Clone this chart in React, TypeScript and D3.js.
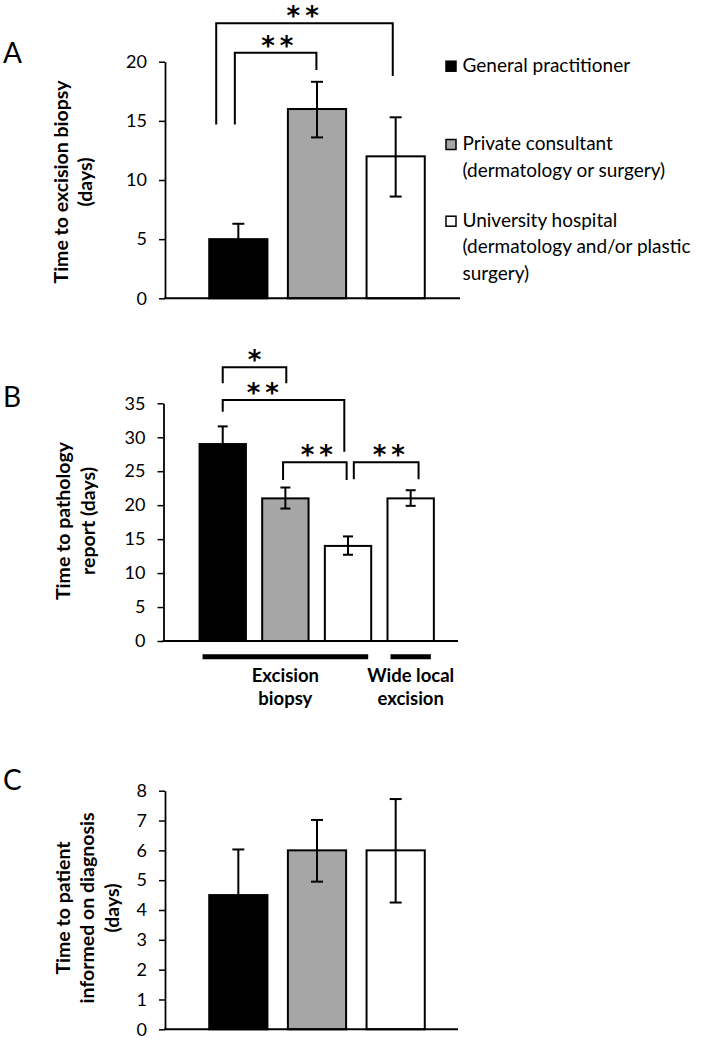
import React, { useEffect, useRef } from "react";
import * as d3 from "d3";

// providers / series
const providers = ["General practitioner", "Private consultant", "University hospital"];
const legendLines = [
  ["General practitioner"],
  ["Private consultant", "(dermatology or surgery)"],
  ["University hospital", "(dermatology and/or plastic", "surgery)"],
];
const fills = ["#000000", "#a6a6a6", "#ffffff"];

// A: time to excision biopsy (days)
const excisionMean = [5, 16, 12];
const excisionLow = [3.7, 13.6, 8.6];
const excisionHigh = [6.3, 18.3, 15.3];
const excisionTicks = [0, 5, 10, 15, 20];

// B: time to pathology report (days)
const pathologyCats = ["GP excision", "Private excision", "University excision", "University WLE"];
const pathologyFill = [0, 1, 2, 2];
const pathologyMean = [29, 21, 14, 21];
const pathologyLow = [26.4, 19.5, 12.7, 19.9];
const pathologyHigh = [31.6, 22.6, 15.4, 22.2];
const pathologyTicks = [0, 5, 10, 15, 20, 25, 30, 35];
const pathologyGroups = [
  { from: 0, to: 2, label: ["Excision", "biopsy"] },
  { from: 3, to: 3, label: ["Wide local", "excision"] },
];

// C: time to patient informed on diagnosis (days)
const informedMean = [4.5, 6, 6];
const informedLow = [2.95, 4.95, 4.25];
const informedHigh = [6.03, 7.02, 7.72];
const informedTicks = [0, 1, 2, 3, 4, 5, 6, 7, 8];

// significance brackets: category index + fraction across the bar, values in days
const excisionBrackets = [
  { from: 0, fromAt: 0.12, to: 2, toAt: 0.45, top: 23.25, fromEnd: 14.7, toEnd: 18.8, stars: "**", at: 0.49 },
  { from: 0, fromAt: 0.44, to: 1, toAt: 0.49, top: 20.76, fromEnd: 14.7, toEnd: 19.3, stars: "**", at: 0.52 },
];
const pathologyBrackets = [
  { from: 0, fromAt: 0.5, to: 1, toAt: 0.52, top: 40.3, fromEnd: 37.95, toEnd: 37.95, stars: "*", at: 0.5 },
  { from: 0, fromAt: 0.5, to: 2, toAt: 0.42, top: 35.5, fromEnd: 33.77, toEnd: 27.88, stars: "**", at: 0.33 },
  { from: 1, fromAt: 0.45, to: 2, toAt: 0.47, top: 26.32, fromEnd: 23.71, toEnd: 23.71, stars: "**", at: 0.53 },
  { from: 2, fromAt: 0.625, to: 3, toAt: 0.67, top: 26.32, fromEnd: 23.8, toEnd: 23.8, stars: "**", at: 0.54 },
];

const FONT = "Lato, 'Open Sans', sans-serif";
const STAR_FONT = "'DejaVu Sans', sans-serif";

function drawPanel(svg, p) {
  const g = svg.append("g");
  const x = d3.scaleBand().domain(p.cats).range(p.xRange).paddingInner(0.26).paddingOuter(0.13);
  const y = d3.scaleLinear().domain([0, d3.max(p.ticks)]).range(p.yRange);
  const bw = x.bandwidth();

  // panel letter
  g.append("text")
    .attr("x", 3)
    .attr("y", p.letterY)
    .style("font-family", FONT)
    .style("font-size", "28px")
    .text(p.letter);

  // y axis
  const ax = g.append("g")
    .attr("transform", `translate(${p.axisX},0)`)
    .call(d3.axisLeft(y).tickValues(p.ticks).tickSize(6).tickSizeOuter(0).tickPadding(12));
  ax.select(".domain").attr("stroke", "#000").attr("stroke-width", 1.8);
  ax.selectAll(".tick line").attr("stroke", "#000").attr("stroke-width", 1.5);
  ax.selectAll(".tick text")
    .style("font-family", FONT)
    .style("font-size", "18px")
    .attr("fill", "#000");

  // y label
  const yl = g.append("text")
    .attr("transform", `translate(0,${p.labelCY}) rotate(-90)`)
    .attr("text-anchor", "middle")
    .style("font-family", FONT)
    .style("font-weight", "bold")
    .style("font-size", "19.5px");
  p.yLabel.forEach((line, i) => {
    yl.append("tspan").attr("x", 0).attr("y", p.labelX[i]).text(line);
  });

  // bars
  g.selectAll("rect.bar")
    .data(p.means)
    .join("rect")
    .attr("x", (d, i) => x(p.cats[i]))
    .attr("y", (d) => y(d))
    .attr("width", bw)
    .attr("height", (d) => y(0) - y(d))
    .attr("fill", (d, i) => fills[p.fillIdx[i]])
    .attr("stroke", "#000")
    .attr("stroke-width", 2);

  // error bars
  const eb = g.selectAll("g.err").data(p.means).join("g");
  eb.append("line")
    .attr("x1", (d, i) => x(p.cats[i]) + bw / 2)
    .attr("x2", (d, i) => x(p.cats[i]) + bw / 2)
    .attr("y1", (d, i) => y(p.lows[i]))
    .attr("y2", (d, i) => y(p.highs[i]))
    .attr("stroke", "#000")
    .attr("stroke-width", 2);
  [p.lows, p.highs].forEach((arr) => {
    eb.append("line")
      .attr("x1", (d, i) => x(p.cats[i]) + bw / 2 - p.cap / 2)
      .attr("x2", (d, i) => x(p.cats[i]) + bw / 2 + p.cap / 2)
      .attr("y1", (d, i) => y(arr[i]))
      .attr("y2", (d, i) => y(arr[i]))
      .attr("stroke", "#000")
      .attr("stroke-width", 2);
  });

  // baseline
  g.append("line")
    .attr("x1", p.axisX - 1)
    .attr("x2", p.axisEnd)
    .attr("y1", y(0))
    .attr("y2", y(0))
    .attr("stroke", "#000")
    .attr("stroke-width", 2);

  // significance brackets
  (p.brackets || []).forEach((b) => {
    const x0 = x(p.cats[b.from]) + b.fromAt * bw;
    const x1 = x(p.cats[b.to]) + b.toAt * bw;
    const line = d3.line();
    g.append("path")
      .attr("d", line([[x0, y(b.fromEnd)], [x0, y(b.top)], [x1, y(b.top)], [x1, y(b.toEnd)]]))
      .attr("fill", "none")
      .attr("stroke", "#000")
      .attr("stroke-width", 2);
    g.append("text")
      .attr("x", x0 + (x1 - x0) * b.at + 2.5)
      .attr("y", y(b.top) + 2)
      .attr("text-anchor", "middle")
      .style("font-family", STAR_FONT)
      .style("font-weight", "bold")
      .style("font-size", "26px")
      .style("letter-spacing", "5px")
      .text(b.stars);
  });

  return { x, y, bw, g };
}

const App = () => {
  const svgRef = useRef(null);

  useEffect(() => {
    const svg = d3.select(svgRef.current);
    svg.selectAll("*").remove();

    drawPanel(svg, {
      letter: "A",
      letterY: 63,
      cats: providers,
      fillIdx: [0, 1, 2],
      means: excisionMean,
      lows: excisionLow,
      highs: excisionHigh,
      ticks: excisionTicks,
      xRange: [199, 435],
      yRange: [298.3, 61.7],
      axisX: 165,
      axisEnd: 460,
      cap: 12,
      yLabel: ["Time to excision biopsy", "(days)"],
      labelX: [68, 92],
      labelCY: 182,
      brackets: excisionBrackets,
    });

    const b = drawPanel(svg, {
      letter: "B",
      letterY: 406.7,
      cats: pathologyCats,
      fillIdx: pathologyFill,
      means: pathologyMean,
      lows: pathologyLow,
      highs: pathologyHigh,
      ticks: pathologyTicks,
      xRange: [191.4, 442],
      yRange: [641, 403.3],
      axisX: 163.5,
      axisEnd: 458,
      cap: 10,
      yLabel: ["Time to pathology", "report (days)"],
      labelX: [70, 94.5],
      labelCY: 521,
      brackets: pathologyBrackets,
    });

    // group bars under panel B
    pathologyGroups.forEach((grp) => {
      const x0 = b.x(pathologyCats[grp.from]) + 3;
      const x1 = b.x(pathologyCats[grp.to]) + b.bw - 3;
      b.g.append("line")
        .attr("x1", x0)
        .attr("x2", x1)
        .attr("y1", 656.7)
        .attr("y2", 656.7)
        .attr("stroke", "#000")
        .attr("stroke-width", 5);
      const t = b.g.append("text")
        .attr("text-anchor", "middle")
        .style("font-family", FONT)
        .style("font-weight", "bold")
        .style("font-size", "18.5px");
      grp.label.forEach((line, i) => {
        t.append("tspan").attr("x", (x0 + x1) / 2).attr("y", 681.7 + i * 23.5).text(line);
      });
    });

    drawPanel(svg, {
      letter: "C",
      letterY: 790,
      cats: providers,
      fillIdx: [0, 1, 2],
      means: informedMean,
      lows: informedLow,
      highs: informedHigh,
      ticks: informedTicks,
      xRange: [199, 435],
      yRange: [1029.3, 790.7],
      axisX: 165,
      axisEnd: 458,
      cap: 12,
      yLabel: ["Time to patient", "informed on diagnosis", "(days)"],
      labelX: [70, 94, 119],
      labelCY: 908,
    });

    // legend
    const lg = svg.append("g");
    const firstBaselines = [71.7, 150, 226.7];
    legendLines.forEach((lines, i) => {
      lg.append("rect")
        .attr("x", 446)
        .attr("y", firstBaselines[i] - 10.5)
        .attr("width", 10)
        .attr("height", 10)
        .attr("fill", fills[i])
        .attr("stroke", "#000")
        .attr("stroke-width", 1.5);
      const t = lg.append("text")
        .style("font-family", FONT)
        .style("font-size", "19px");
      lines.forEach((line, j) => {
        t.append("tspan").attr("x", 462.5).attr("y", firstBaselines[i] + j * 26.5).text(line);
      });
    });
  }, []);

  return (
    <svg
      ref={svgRef}
      width={702}
      height={1039}
      style={{ position: "absolute", left: 0, top: 0, background: "#fff" }}
    />
  );
};

export default App;
